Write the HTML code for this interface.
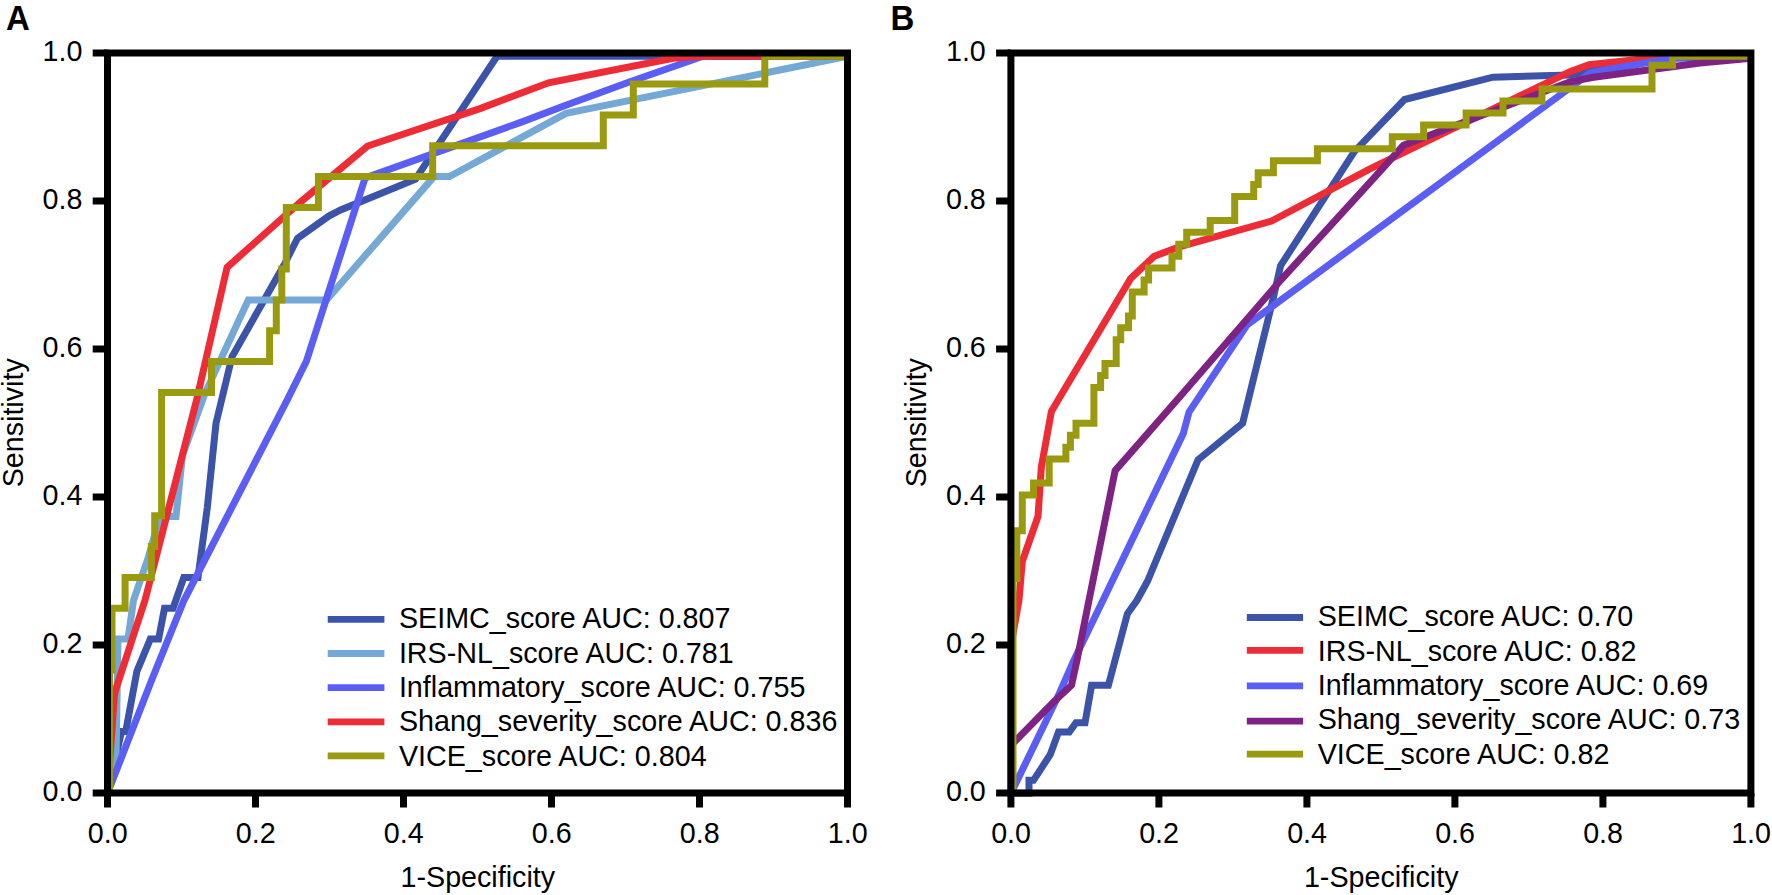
<!DOCTYPE html>
<html lang="en"><head><meta charset="utf-8"><title>ROC curves</title>
<style>html,body{margin:0;padding:0;background:#fff}body{width:1772px;height:895px;overflow:hidden}svg{display:block}</style>
</head><body>
<svg width="1772" height="895" viewBox="0 0 1772 895">
<rect width="1772" height="895" fill="#fff"/>
<g fill="none" stroke-width="7.0" stroke-linejoin="miter" stroke-linecap="butt" transform="translate(0,0.3)">
<polyline points="107.5,793.0 121.5,731.3 125.7,731.3 136.9,671.0 150.3,638.8 158.6,638.8 164.5,608.0 173.0,608.0 183.8,577.2 198.0,577.2 207.3,507.3 216.0,423.0 232.0,356.4 284.0,264.8 297.5,238.0 328.8,215.8 340.6,209.6 415.5,178.9 497.0,56.0 847.5,56.0" stroke="#3b53a8"/>
<polyline points="107.5,793.0 116.0,762.0 118.0,638.8 128.0,638.8 133.5,600.0 148.0,558.0 160.0,516.2 176.0,516.2 182.5,455.0 205.0,393.0 248.3,299.7 326.5,299.7 434.0,176.3 449.5,176.3 566.0,113.0 847.5,56.0" stroke="#74a8d6"/>
<polyline points="107.5,793.0 151.6,680.0 184.0,600.0 287.0,400.0 306.4,360.9 365.1,177.7 520.0,122.3 565.8,105.0 630.0,81.5 703.0,56.0 847.5,56.0" stroke="#5a5ef4"/>
<polyline points="107.5,793.0 114.5,693.0 145.0,600.0 196.5,400.0 227.1,267.0 300.0,202.2 367.6,145.7 480.0,108.3 548.6,82.5 673.0,57.9 700.0,56.0 847.5,56.0" stroke="#ee2c35"/>
<polyline points="109.5,793.0 109.5,669.7 112.0,669.7 112.0,608.0 125.1,608.0 125.1,577.2 151.4,577.2 151.4,546.3 154.7,546.3 154.7,515.5 161.6,515.5 161.6,392.2 211.5,392.2 211.5,361.3 269.6,361.3 269.6,330.5 276.3,330.5 276.3,299.7 281.8,299.7 281.8,268.8 286.3,268.8 286.3,207.2 318.4,207.2 318.4,176.3 432.7,176.3 432.7,145.5 603.3,145.5 603.3,114.7 633.3,114.7 633.3,83.8 764.8,83.8 764.8,56.0 847.5,56.0 847.5,56.0" stroke="#9a9a10"/>
<polyline points="1011.0,793.0 1029.0,793.0 1029.0,780.0 1033.5,780.0 1050.3,754.2 1058.5,731.8 1069.3,731.8 1076.0,722.5 1085.0,722.5 1091.6,685.0 1108.4,685.0 1127.4,613.4 1137.0,600.0 1147.5,581.0 1198.0,459.5 1242.6,423.0 1272.7,300.0 1280.6,265.4 1354.3,151.4 1380.0,124.6 1404.6,99.2 1492.9,76.9 1570.0,74.6 1660.0,57.0 1751.0,56.0" stroke="#3b53a8"/>
<polyline points="1011.0,793.0 1011.0,645.0 1019.0,600.0 1022.3,561.0 1038.0,516.2 1041.3,467.0 1051.4,411.2 1058.0,400.0 1130.7,278.2 1154.2,255.9 1180.0,246.4 1271.6,220.7 1370.0,168.5 1570.0,71.3 1589.0,64.3 1657.0,57.3 1751.0,56.0" stroke="#ee2c35"/>
<polyline points="1011.0,793.0 1058.0,696.0 1073.7,660.3 1103.0,600.0 1183.2,433.5 1189.0,411.8 1247.0,324.7 1590.6,72.3 1671.0,58.3 1751.0,56.0" stroke="#5a5ef4"/>
<polyline points="1011.0,745.0 1053.6,701.7 1071.5,685.0 1077.0,660.0 1089.0,600.0 1115.1,470.4 1179.4,397.0 1280.6,280.0 1375.0,176.6 1403.5,145.0 1570.0,81.5 1592.0,77.2 1700.0,62.8 1751.0,58.0" stroke="#7e2283"/>
<polyline points="1013.0,793.0 1013.0,578.2 1016.8,578.2 1016.8,530.4 1022.3,530.4 1022.3,494.6 1033.5,494.6 1033.5,482.7 1049.2,482.7 1049.2,458.8 1065.9,458.8 1065.9,446.9 1070.4,446.9 1070.4,434.9 1076.0,434.9 1076.0,423.0 1093.9,423.0 1093.9,387.2 1100.6,387.2 1100.6,375.3 1105.0,375.3 1105.0,363.3 1116.2,363.3 1116.2,339.5 1120.7,339.5 1120.7,327.5 1128.5,327.5 1128.5,315.6 1132.3,315.6 1132.3,291.7 1144.1,291.7 1144.1,279.8 1148.6,279.8 1148.6,267.8 1172.0,267.8 1172.0,255.9 1178.8,255.9 1178.8,244.0 1186.7,244.0 1186.7,232.0 1210.2,232.0 1210.2,220.1 1234.7,220.1 1234.7,196.2 1253.7,196.2 1253.7,184.3 1258.2,184.3 1258.2,172.4 1273.4,172.4 1273.4,160.4 1317.4,160.4 1317.4,148.5 1392.3,148.5 1392.3,136.5 1423.6,136.5 1423.6,124.6 1466.1,124.6 1466.1,112.7 1503.0,112.7 1503.0,100.7 1542.0,100.7 1542.0,88.8 1652.0,88.8 1652.0,64.9 1672.6,64.9 1672.6,56.0 1751.0,56.0 1751.0,56.0" stroke="#9a9a10"/>
</g>
<g stroke="#000" stroke-width="7.0" fill="none"><rect x="107.5" y="53.0" width="740" height="740" fill="none" stroke="#000" stroke-width="7.0"/><line x1="92.7" y1="53.0" x2="107.5" y2="53.0"/><line x1="107.5" y1="793.0" x2="107.5" y2="807.5"/><line x1="92.7" y1="201.0" x2="107.5" y2="201.0"/><line x1="255.5" y1="793.0" x2="255.5" y2="807.5"/><line x1="92.7" y1="349.0" x2="107.5" y2="349.0"/><line x1="403.5" y1="793.0" x2="403.5" y2="807.5"/><line x1="92.7" y1="497.0" x2="107.5" y2="497.0"/><line x1="551.5" y1="793.0" x2="551.5" y2="807.5"/><line x1="92.7" y1="645.0" x2="107.5" y2="645.0"/><line x1="699.5" y1="793.0" x2="699.5" y2="807.5"/><line x1="92.7" y1="793.0" x2="107.5" y2="793.0"/><line x1="847.5" y1="793.0" x2="847.5" y2="807.5"/></g>
<g stroke="#000" stroke-width="7.0" fill="none"><rect x="1010.9" y="53.0" width="740" height="740" fill="none" stroke="#000" stroke-width="7.0"/><line x1="996.1" y1="53.0" x2="1010.9" y2="53.0"/><line x1="1010.9" y1="793.0" x2="1010.9" y2="807.5"/><line x1="996.1" y1="201.0" x2="1010.9" y2="201.0"/><line x1="1158.9" y1="793.0" x2="1158.9" y2="807.5"/><line x1="996.1" y1="349.0" x2="1010.9" y2="349.0"/><line x1="1306.9" y1="793.0" x2="1306.9" y2="807.5"/><line x1="996.1" y1="497.0" x2="1010.9" y2="497.0"/><line x1="1454.9" y1="793.0" x2="1454.9" y2="807.5"/><line x1="996.1" y1="645.0" x2="1010.9" y2="645.0"/><line x1="1602.9" y1="793.0" x2="1602.9" y2="807.5"/><line x1="996.1" y1="793.0" x2="1010.9" y2="793.0"/><line x1="1750.9" y1="793.0" x2="1750.9" y2="807.5"/></g>
<g font-family="'Liberation Sans', Arial, sans-serif" font-size="28.7" fill="#000">
<text transform="translate(82.4,60.7) scale(1,1.035)" text-anchor="end">1.0</text><text transform="translate(107.7,842.6) scale(1,1.035)" text-anchor="middle">0.0</text><text transform="translate(82.4,208.7) scale(1,1.035)" text-anchor="end">0.8</text><text transform="translate(255.7,842.6) scale(1,1.035)" text-anchor="middle">0.2</text><text transform="translate(82.4,356.7) scale(1,1.035)" text-anchor="end">0.6</text><text transform="translate(403.7,842.6) scale(1,1.035)" text-anchor="middle">0.4</text><text transform="translate(82.4,504.7) scale(1,1.035)" text-anchor="end">0.4</text><text transform="translate(551.7,842.6) scale(1,1.035)" text-anchor="middle">0.6</text><text transform="translate(82.4,652.7) scale(1,1.035)" text-anchor="end">0.2</text><text transform="translate(699.7,842.6) scale(1,1.035)" text-anchor="middle">0.8</text><text transform="translate(82.4,800.7) scale(1,1.035)" text-anchor="end">0.0</text><text transform="translate(847.7,842.6) scale(1,1.035)" text-anchor="middle">1.0</text><text transform="translate(477.8,886.6) scale(1,1.035)" text-anchor="middle">1-Specificity</text><text transform="translate(23.0,422.8) rotate(-90) scale(1,1.035)" text-anchor="middle">Sensitivity</text>
<text transform="translate(985.8,60.7) scale(1,1.035)" text-anchor="end">1.0</text><text transform="translate(1011.1,842.6) scale(1,1.035)" text-anchor="middle">0.0</text><text transform="translate(985.8,208.7) scale(1,1.035)" text-anchor="end">0.8</text><text transform="translate(1159.1,842.6) scale(1,1.035)" text-anchor="middle">0.2</text><text transform="translate(985.8,356.7) scale(1,1.035)" text-anchor="end">0.6</text><text transform="translate(1307.1,842.6) scale(1,1.035)" text-anchor="middle">0.4</text><text transform="translate(985.8,504.7) scale(1,1.035)" text-anchor="end">0.4</text><text transform="translate(1455.1,842.6) scale(1,1.035)" text-anchor="middle">0.6</text><text transform="translate(985.8,652.7) scale(1,1.035)" text-anchor="end">0.2</text><text transform="translate(1603.1,842.6) scale(1,1.035)" text-anchor="middle">0.8</text><text transform="translate(985.8,800.7) scale(1,1.035)" text-anchor="end">0.0</text><text transform="translate(1751.1,842.6) scale(1,1.035)" text-anchor="middle">1.0</text><text transform="translate(1381.2,886.6) scale(1,1.035)" text-anchor="middle">1-Specificity</text><text transform="translate(926.4,422.8) rotate(-90) scale(1,1.035)" text-anchor="middle">Sensitivity</text>
<line x1="327.7" y1="619.4" x2="384.4" y2="619.4" stroke="#3b53a8" stroke-width="6.8"/><text transform="translate(398.9,628.1) scale(1,1.035)" text-anchor="start">SEIMC_score AUC: 0.807</text><line x1="327.7" y1="653.5" x2="384.4" y2="653.5" stroke="#74a8d6" stroke-width="6.8"/><text transform="translate(398.9,662.5) scale(1,1.035)" text-anchor="start">IRS-NL_score AUC: 0.781</text><line x1="327.7" y1="687.6" x2="384.4" y2="687.6" stroke="#5a5ef4" stroke-width="6.8"/><text transform="translate(398.9,696.8) scale(1,1.035)" text-anchor="start">Inflammatory_score AUC: 0.755</text><line x1="327.7" y1="721.8" x2="384.4" y2="721.8" stroke="#ee2c35" stroke-width="6.8"/><text transform="translate(398.9,731.1) scale(1,1.035)" text-anchor="start">Shang_severity_score AUC: 0.836</text><line x1="327.7" y1="755.9" x2="384.4" y2="755.9" stroke="#9a9a10" stroke-width="6.8"/><text transform="translate(398.9,765.5) scale(1,1.035)" text-anchor="start">VICE_score AUC: 0.804</text>
<line x1="1246.8" y1="617.5" x2="1303.1" y2="617.5" stroke="#3b53a8" stroke-width="6.8"/><text transform="translate(1317.7,626.1) scale(1,1.035)" text-anchor="start">SEIMC_score AUC: 0.70</text><line x1="1246.8" y1="650.3" x2="1303.1" y2="650.3" stroke="#ee2c35" stroke-width="6.8"/><text transform="translate(1317.7,660.5) scale(1,1.035)" text-anchor="start">IRS-NL_score AUC: 0.82</text><line x1="1246.8" y1="685.9" x2="1303.1" y2="685.9" stroke="#5a5ef4" stroke-width="6.8"/><text transform="translate(1317.7,694.8) scale(1,1.035)" text-anchor="start">Inflammatory_score AUC: 0.69</text><line x1="1246.8" y1="721.1" x2="1303.1" y2="721.1" stroke="#7e2283" stroke-width="6.8"/><text transform="translate(1317.7,729.1) scale(1,1.035)" text-anchor="start">Shang_severity_score AUC: 0.73</text><line x1="1246.8" y1="754.1" x2="1303.1" y2="754.1" stroke="#9a9a10" stroke-width="6.8"/><text transform="translate(1317.7,763.5) scale(1,1.035)" text-anchor="start">VICE_score AUC: 0.82</text>
</g>
<g font-family="'Liberation Sans', Arial, sans-serif" font-size="33" font-weight="bold" fill="#000"><text transform="translate(6,29.7) scale(1,1.045)">A</text><text transform="translate(890.6,29.7) scale(1,1.045)">B</text></g>
</svg>
</body></html>
